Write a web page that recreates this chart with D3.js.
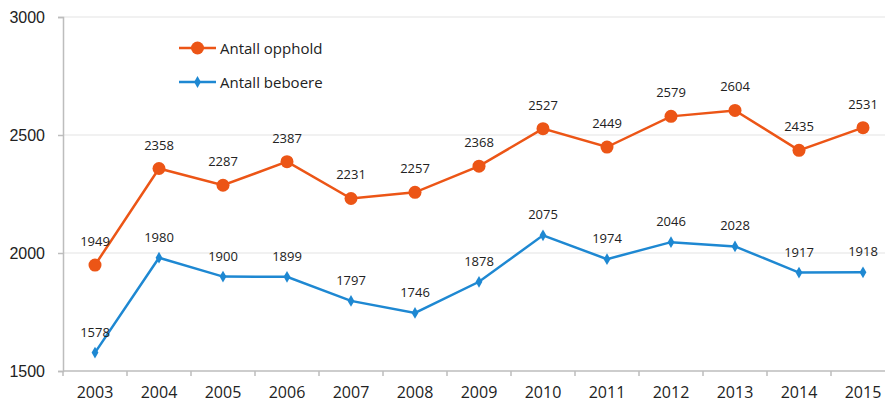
<!DOCTYPE html>
<html>
<head>
<meta charset="utf-8">
<script src="https://cdn.jsdelivr.net/npm/d3@7/dist/d3.min.js"></script>
<style>
  body { margin: 0; background: #fff; }
  svg { display: block; font-family: "Open Sans", "Noto Sans", sans-serif; }
</style>
</head>
<body>
<script>
// chart size
let w = 885;
let h = 404;

// data
let years = ["2003","2004","2005","2006","2007","2008","2009","2010","2011","2012","2013","2014","2015"];
let opphold = [1949, 2358, 2287, 2387, 2231, 2257, 2368, 2527, 2449, 2579, 2604, 2435, 2531];
let beboere = [1578, 1980, 1900, 1899, 1797, 1746, 1878, 2075, 1974, 2046, 2028, 1917, 1918];
let yTicks = [1500, 2000, 2500, 3000];
let seriesNames = ["Antall opphold", "Antall beboere"];

let orange = "#ec5516";
let blue = "#1e88d2";

let margin = { left: 63, top: 17, bottom: 33 };

let x = d3.scaleBand()
    .domain(years)
    .range([margin.left, margin.left + 64 * years.length])
    .padding(0);

let y = d3.scaleLinear()
    .domain([1500, 3000])
    .range([h - margin.bottom, margin.top]);

let svg = d3.select("body").append("svg")
    .attr("width", w)
    .attr("height", h);

// gridlines
svg.append("g")
    .selectAll("line")
    .data(yTicks.slice(1))
    .enter()
    .append("line")
    .attr("x1", margin.left)
    .attr("x2", w)
    .attr("y1", d => y(d))
    .attr("y2", d => y(d))
    .style("stroke", "#e4e4e4")
    .style("stroke-width", 1.2);

// y axis
let yAxis = svg.append("g")
    .attr("transform", "translate(" + margin.left + ",0)")
    .call(d3.axisLeft(y).tickValues(yTicks).tickSize(5).tickPadding(13).tickFormat(d3.format("d")));
yAxis.select(".domain").attr("stroke", "#bdbdbd").attr("stroke-width", 1.5);
yAxis.selectAll(".tick line").attr("stroke", "#bdbdbd").attr("stroke-width", 1.5);
yAxis.selectAll("text").style("font-size", "16px").style("fill", "#222");

// x axis, ticks between categories
let xAxisY = y(1500);
let xg = svg.append("g");
xg.append("line")
    .attr("x1", margin.left).attr("x2", w)
    .attr("y1", xAxisY).attr("y2", xAxisY)
    .style("stroke", "#bdbdbd").style("stroke-width", 1.5);
xg.selectAll(".xt")
    .data(years)
    .enter()
    .append("line")
    .attr("class", "xt")
    .attr("x1", d => x(d)).attr("x2", d => x(d))
    .attr("y1", xAxisY).attr("y2", xAxisY + 5)
    .style("stroke", "#bdbdbd").style("stroke-width", 1.5);
xg.selectAll("text")
    .data(years)
    .enter()
    .append("text")
    .attr("x", d => x(d) + x.bandwidth() / 2)
    .attr("y", xAxisY + 27)
    .attr("text-anchor", "middle")
    .style("font-size", "16px")
    .style("fill", "#222")
    .text(d => d);

let cx = (d, i) => x(years[i]) + x.bandwidth() / 2;

let line = d3.line()
    .x((d, i) => cx(d, i))
    .y(d => y(d));

// orange series
svg.append("path")
    .datum(opphold)
    .attr("d", line)
    .style("fill", "none")
    .style("stroke", orange)
    .style("stroke-width", 2.5);

svg.selectAll(".dotO")
    .data(opphold)
    .enter()
    .append("circle")
    .attr("class", "dotO")
    .attr("cx", cx)
    .attr("cy", d => y(d))
    .attr("r", 6.5)
    .style("fill", orange);

// blue series
svg.append("path")
    .datum(beboere)
    .attr("d", line)
    .style("fill", "none")
    .style("stroke", blue)
    .style("stroke-width", 2.5);

let diamond = d3.symbol().type(d3.symbolDiamond).size(40);
svg.selectAll(".dotB")
    .data(beboere)
    .enter()
    .append("path")
    .attr("class", "dotB")
    .attr("d", diamond)
    .attr("transform", (d, i) => "translate(" + cx(d, i) + "," + y(d) + ")")
    .style("fill", blue);

// value labels
svg.selectAll(".labO")
    .data(opphold)
    .enter()
    .append("text")
    .attr("class", "labO")
    .attr("x", cx)
    .attr("y", d => y(d) - 19)
    .attr("text-anchor", "middle")
    .style("font-size", "13px")
    .style("fill", "#222")
    .text(d => d);

svg.selectAll(".labB")
    .data(beboere)
    .enter()
    .append("text")
    .attr("class", "labB")
    .attr("x", cx)
    .attr("y", d => y(d) - 16)
    .attr("text-anchor", "middle")
    .style("font-size", "13px")
    .style("fill", "#222")
    .text(d => d);

// legend
let legend = svg.append("g").attr("transform", "translate(179,48)");
[orange, blue].forEach(function(c, i) {
    let g = legend.append("g").attr("transform", "translate(0," + (i * 34) + ")");
    g.append("line").attr("x1", 0).attr("x2", 37).attr("y1", 0).attr("y2", 0)
        .style("stroke", c).style("stroke-width", 2.5);
    if (i === 0) {
        g.append("circle").attr("cx", 18.5).attr("cy", 0).attr("r", 6.5).style("fill", c);
    } else {
        g.append("path").attr("d", diamond).attr("transform", "translate(18.5,0)").style("fill", c);
    }
    g.append("text").attr("x", 41).attr("y", 5.5)
        .style("font-size", "15px").style("fill", "#222")
        .text(seriesNames[i]);
});
</script>
</body>
</html>
